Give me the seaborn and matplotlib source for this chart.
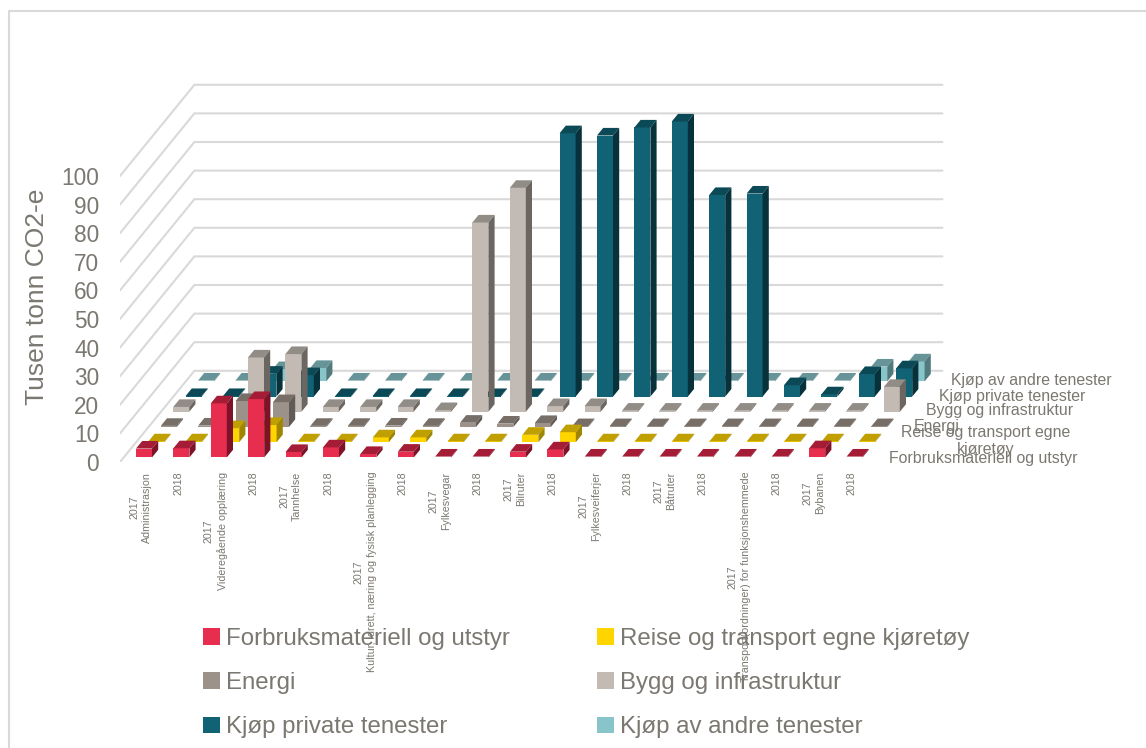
import pandas as pd
import matplotlib
matplotlib.use("Agg")
import matplotlib.pyplot as plt
from matplotlib.lines import Line2D
from matplotlib.patches import Patch
import seaborn as sns

# data (tusen tonn CO2-e)
categories = ["Administrasjon", "Videregående opplæring", "Tannhelse",
              "Kultur, idrett, næring og fysisk planlegging", "Fylkesvegar", "Bilruter",
              "Fylkesveiferjer", "Båtruter", "Transport(ordninger) for funksjonshemmede", "Bybanen"]
years = ["2017", "2018"]
series_names = ["Forbruksmateriell og utstyr", "Reise og transport egne kjøretøy", "Energi",
                "Bygg og infrastruktur", "Kjøp private tenester", "Kjøp av andre tenester"]

forbruk = [3.1, 3.2, 18.9, 20.4, 1.9, 3.5, 1.2, 2.0, 0.3, 0.3,
           2.0, 2.8, 0.3, 0.3, 0.3, 0.3, 0.3, 0.3, 3.2, 0.3]
reise = [0.3, 0.3, 4.9, 6.0, 0.3, 0.3, 1.7, 1.7, 0.3, 0.3,
         2.6, 3.5, 0.3, 0.3, 0.3, 0.3, 0.3, 0.3, 0.3, 0.3]
energi = [0.4, 0.5, 9.1, 8.7, 0.4, 0.4, 0.5, 0.4, 1.5, 1.2,
          1.4, 0.3, 0.3, 0.3, 0.3, 0.3, 0.3, 0.3, 0.3, 0.3]
bygg = [1.7, 0.4, 19.0, 20.2, 1.7, 1.7, 1.7, 0.6, 66.2, 78.3,
        2.0, 2.0, 0.4, 0.4, 0.4, 0.4, 0.4, 0.4, 0.4, 8.7]
privat = [0.2, 0.2, 8.0, 7.5, 0.2, 0.2, 0.2, 0.2, 0.2, 0.2,
          92.1, 91.3, 94.1, 96.2, 70.5, 71.0, 4.0, 0.8, 7.9, 9.9]
andre = [0.3, 0.3, 4.3, 4.7, 0.3, 0.3, 0.3, 0.3, 0.3, 0.3,
         0.3, 0.3, 0.3, 0.3, 0.3, 0.3, 0.3, 0.3, 5.2, 7.0]
all_values = [forbruk, reise, energi, bygg, privat, andre]
y_ticks = list(range(0, 101, 10))

# colours of the three visible faces
front_colors = ["#E82E4F", "#FFD500", "#9D9289", "#C3BAB3", "#106274", "#88C5CA"]
top_colors = ["#A51C36", "#BFA000", "#766E67", "#928C86", "#0C4957", "#669498"]
side_colors = ["#7E1228", "#A08600", "#625B55", "#6B6661", "#07323C", "#507A7D"]
TEXT = "#7B7771"
GRID = "#D9D9D9"

W, H = 1146, 748
PX_X = 37.4    # pixels for one bar step
PX_Y = 2.86    # pixels for one unit
STEP_X = 12.4 / PX_X   # shift of one series in depth
STEP_Y = 15.2 / PX_Y
BAR_W = 16.0 / PX_X
BASE_Y = 1.6

sns.set_theme(style="white", rc={"axes.facecolor": "none"})
plt.rcParams["font.family"] = ["Liberation Sans", "DejaVu Sans"]

fig = plt.figure(figsize=(W / 100, H / 100), dpi=100)

def fx(px):
    return px / W

def fy(px):
    return 1 - px / H

ax = fig.add_axes([fx(120), fy(462), (965 - 120) / W, (462 - 60) / H])
ax.set_xlim((120 - 144) / PX_X, (965 - 144) / PX_X)
ax.set_ylim(0, (462 - 60) / PX_Y)

# walls
left = ax.get_xlim()[0]
right = left + 20
for v in y_ticks:
    ax.plot([left, left + 6 * STEP_X, right + 6 * STEP_X], [v, v + 6 * STEP_Y, v + 6 * STEP_Y],
            color=GRID, lw=1.5, zorder=0, solid_joinstyle="miter")

# bars from the back row to the front row
positions = list(range(20))
for k in range(5, -1, -1):
    df = pd.DataFrame({"pos": [p + k * STEP_X for p in positions], "value": all_values[k]})
    n_before = len(ax.patches)
    sns.barplot(data=df, x="pos", y="value", native_scale=True, ax=ax, width=BAR_W, gap=0,
                color=front_colors[k], saturation=1, errorbar=None, linewidth=0,
                bottom=BASE_Y + k * STEP_Y)
    for bar in list(ax.patches[n_before:]):
        x0, y0 = bar.get_x(), bar.get_y()
        w, h = bar.get_width(), bar.get_height()
        dx, dy = STEP_X / 2, STEP_Y / 2
        ax.fill([x0, x0 + w, x0 + w + dx, x0 + dx], [y0 + h, y0 + h, y0 + h + dy, y0 + h + dy],
                color=top_colors[k], lw=0)
        ax.fill([x0 + w, x0 + w + dx, x0 + w + dx, x0 + w], [y0, y0 + dy, y0 + h + dy, y0 + h],
                color=side_colors[k], lw=0)

ax.set_xlim((120 - 144) / PX_X, (965 - 144) / PX_X)
ax.set_ylim(0, (462 - 60) / PX_Y)
ax.set_xlabel("")
ax.set_ylabel("")
for s in ax.spines.values():
    s.set_visible(False)

# tick labels
tick_labels = []
for c in categories:
    tick_labels += [years[0] + "\n" + c, years[1]]
ax.set_xticks([p - 3 / PX_X for p in positions])
ax.set_xticklabels(tick_labels, rotation=90, ha="center", va="top", ma="center",
                   fontsize=7.7, color=TEXT, linespacing=1.35)
ax.tick_params(axis="x", length=0, pad=7)
ax.set_yticks(y_ticks)
ax.set_yticklabels([str(v) for v in y_ticks], fontsize=16.3, color=TEXT)
ax.tick_params(axis="y", length=0, pad=15)
fig.text(fx(37.5), fy(297), "Tusen tonn CO2-e", rotation=90, ha="center", va="center",
         fontsize=19, color=TEXT)

# names along the depth axis
depth_labels = [(889, 458, series_names[0]), (914, 427, series_names[2]),
                (926, 411, series_names[3]), (939, 396, series_names[4]), (951, 381, series_names[5])]
for px, py, name in depth_labels:
    fig.text(fx(px), fy(py), name, ha="left", va="center", fontsize=11.4, color=TEXT)
fig.text(fx(986), fy(441), "Reise og transport egne\nkjøretøy", ha="center", va="center", ma="center",
         fontsize=11.4, color=TEXT, linespacing=1.1)

# legend, filled column by column
order = [0, 2, 4, 1, 3, 5]
handles = [Patch(facecolor=front_colors[i], edgecolor="none", label=series_names[i]) for i in order]
fig.legend(handles=handles, ncol=2, loc="upper left", bbox_to_anchor=(fx(198), fy(623)), frameon=False,
           fontsize=17.3, labelcolor=TEXT, handlelength=0.7, handleheight=0.7, handletextpad=0.25,
           labelspacing=0.93, columnspacing=3.63, borderpad=0.2, borderaxespad=0)

# chart frame, only left and top show
fig.add_artist(Line2D([fx(8.5), fx(8.5), 1], [0, fy(10.5), fy(10.5)], color=GRID, lw=1.5))

fig.savefig("out.png", dpi=100, facecolor="white")
